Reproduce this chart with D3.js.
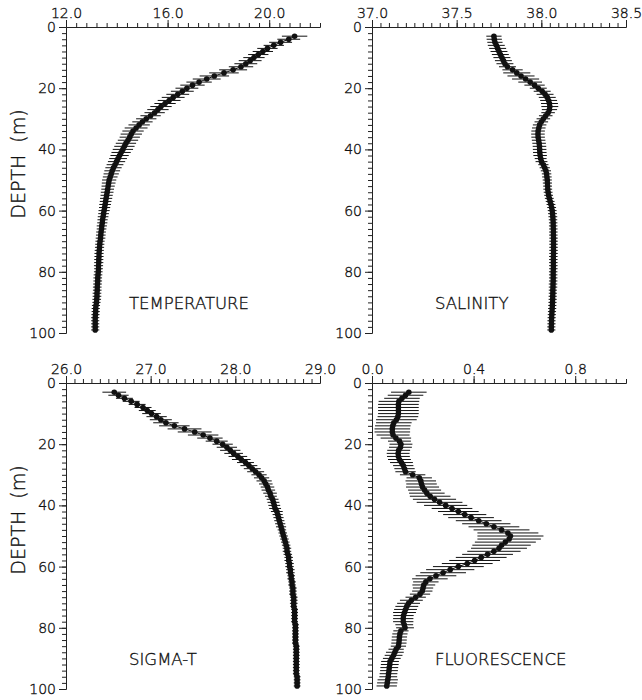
<!DOCTYPE html>
<html>
<head>
<meta charset="utf-8">
<script src="https://cdn.jsdelivr.net/npm/d3@7"></script>
<style>
body { margin: 0; background: #fff; }
text { font-family: "DejaVu Sans", sans-serif; font-weight: 200; fill: #111; stroke: #111; stroke-width: 0.35px; }
</style>
</head>
<body>
<script>
// sample depths (m)
var depth = [3,4,5,6,7,8,9,10,11,12,13,14,15,16,17,18,19,20,21,22,23,24,25,26,27,28,29,30,31,32,33,34,35,36,37,38,39,40,41,42,43,44,45,46,47,48,49,50,
  51,52,53,54,55,56,57,58,59,60,61,62,63,64,65,66,67,68,69,70,71,72,73,74,75,76,77,78,79,80,81,82,83,84,85,86,87,88,89,90,91,92,93,94,95,96,97,98,99];

var temperature = [21.00,20.77,20.45,20.18,19.93,19.75,19.57,19.40,19.25,19.08,
  18.89,18.58,18.22,17.84,17.54,17.24,16.98,16.76,16.58,16.40,
  16.22,16.06,15.90,15.74,15.62,15.49,15.33,15.16,15.01,14.88,
  14.76,14.64,14.57,14.51,14.44,14.36,14.30,14.24,14.17,14.11,
  14.05,13.99,13.93,13.87,13.82,13.78,13.74,13.70,13.68,13.66,
  13.64,13.62,13.60,13.58,13.56,13.54,13.52,13.50,13.48,13.46,
  13.44,13.43,13.41,13.40,13.38,13.37,13.36,13.34,13.33,13.32,
  13.31,13.30,13.30,13.29,13.29,13.28,13.28,13.27,13.26,13.25,
  13.25,13.24,13.23,13.23,13.22,13.22,13.21,13.20,13.18,13.17,
  13.17,13.16,13.15,13.15,13.15,13.15,13.15];
var temperatureErr = [0.50,0.45,0.45,0.40,0.40,0.40,0.40,0.42,0.45,0.45,
  0.48,0.55,0.58,0.58,0.55,0.50,0.48,0.45,0.45,0.45,
  0.45,0.45,0.42,0.42,0.42,0.40,0.40,0.40,0.40,0.42,
  0.45,0.42,0.42,0.40,0.40,0.40,0.40,0.40,0.38,0.36,
  0.35,0.34,0.33,0.32,0.31,0.30,0.29,0.28,0.27,0.26,
  0.25,0.25,0.24,0.24,0.23,0.23,0.22,0.22,0.21,0.21,
  0.20,0.20,0.20,0.19,0.19,0.19,0.19,0.18,0.18,0.18,
  0.18,0.18,0.18,0.18,0.18,0.18,0.17,0.17,0.17,0.17,
  0.17,0.17,0.17,0.17,0.17,0.17,0.17,0.16,0.16,0.16,
  0.16,0.16,0.16,0.16,0.16,0.16,0.16];

var salinity = [37.720,37.722,37.726,37.734,37.742,37.750,37.758,37.767,37.776,37.785,
  37.800,37.830,37.855,37.880,37.907,37.934,37.960,37.982,38.005,38.022,
  38.035,38.043,38.048,38.050,38.048,38.040,38.026,38.012,38.000,37.990,
  37.985,37.981,37.980,37.981,37.984,37.987,37.989,37.990,37.991,37.993,
  37.996,38.001,38.012,38.020,38.027,38.031,38.033,38.035,38.036,38.037,
  38.038,38.040,38.043,38.047,38.052,38.057,38.061,38.064,38.066,38.068,
  38.069,38.070,38.070,38.071,38.071,38.071,38.072,38.072,38.072,38.072,
  38.072,38.072,38.071,38.071,38.071,38.071,38.071,38.070,38.070,38.070,
  38.070,38.069,38.069,38.068,38.068,38.067,38.067,38.066,38.065,38.064,
  38.063,38.062,38.061,38.060,38.060,38.059,38.059];
var salinityErr = [0.045,0.045,0.045,0.05,0.05,0.05,0.05,0.05,0.05,0.05,
  0.05,0.06,0.08,0.08,0.08,0.07,0.06,0.05,0.05,0.05,
  0.05,0.05,0.05,0.05,0.045,0.04,0.04,0.04,0.04,0.04,
  0.04,0.04,0.04,0.04,0.04,0.04,0.04,0.04,0.04,0.04,
  0.035,0.035,0.03,0.03,0.03,0.028,0.028,0.027,0.027,0.026,
  0.026,0.026,0.026,0.026,0.026,0.026,0.026,0.026,0.026,0.026,
  0.025,0.025,0.025,0.025,0.025,0.025,0.025,0.025,0.025,0.025,
  0.025,0.025,0.025,0.025,0.025,0.025,0.025,0.025,0.025,0.025,
  0.025,0.025,0.025,0.024,0.024,0.024,0.024,0.024,0.024,0.024,
  0.024,0.024,0.024,0.024,0.024,0.024,0.024];

var sigmaT = [26.57,26.62,26.69,26.77,26.84,26.91,26.96,27.01,27.07,27.12,
  27.18,27.28,27.40,27.52,27.62,27.70,27.78,27.85,27.90,27.94,
  27.98,28.03,28.07,28.12,28.16,28.20,28.24,28.28,28.31,28.34,
  28.36,28.38,28.39,28.41,28.42,28.44,28.45,28.46,28.47,28.49,
  28.50,28.51,28.52,28.53,28.54,28.55,28.56,28.57,28.58,28.59,
  28.60,28.61,28.61,28.62,28.63,28.63,28.64,28.64,28.65,28.65,
  28.66,28.66,28.67,28.67,28.68,28.68,28.68,28.69,28.69,28.69,
  28.69,28.70,28.70,28.70,28.70,28.70,28.71,28.71,28.71,28.71,
  28.71,28.71,28.71,28.72,28.72,28.72,28.72,28.72,28.72,28.72,
  28.72,28.72,28.72,28.73,28.73,28.73,28.73];
var sigmaTErr = [0.14,0.12,0.10,0.10,0.10,0.10,0.10,0.11,0.12,0.13,
  0.15,0.18,0.20,0.20,0.18,0.15,0.13,0.12,0.12,0.12,
  0.11,0.11,0.11,0.10,0.10,0.10,0.10,0.09,0.09,0.09,
  0.08,0.08,0.08,0.08,0.07,0.07,0.07,0.07,0.07,0.07,
  0.06,0.06,0.06,0.06,0.06,0.05,0.05,0.05,0.05,0.05,
  0.05,0.05,0.05,0.05,0.05,0.05,0.05,0.05,0.05,0.05,
  0.045,0.045,0.045,0.045,0.045,0.045,0.045,0.045,0.045,0.045,
  0.04,0.04,0.04,0.04,0.04,0.04,0.04,0.04,0.04,0.04,
  0.04,0.04,0.04,0.04,0.04,0.04,0.04,0.04,0.04,0.04,
  0.04,0.04,0.04,0.04,0.04,0.04,0.04];

var fluorescence = [0.145,0.132,0.118,0.106,0.104,0.104,0.104,0.104,0.102,0.096,
  0.086,0.082,0.080,0.080,0.083,0.094,0.108,0.114,0.112,0.105,
  0.103,0.104,0.108,0.116,0.123,0.128,0.132,0.160,0.186,0.192,
  0.195,0.199,0.207,0.216,0.229,0.246,0.266,0.290,0.315,0.340,
  0.365,0.390,0.420,0.450,0.480,0.510,0.535,0.545,0.540,0.525,
  0.510,0.500,0.480,0.455,0.430,0.404,0.375,0.340,0.308,0.280,
  0.252,0.228,0.212,0.204,0.201,0.198,0.189,0.172,0.155,0.144,
  0.137,0.132,0.128,0.124,0.123,0.123,0.127,0.130,0.114,0.110,
  0.108,0.107,0.106,0.104,0.095,0.090,0.085,0.078,0.071,0.070,
  0.068,0.067,0.065,0.064,0.062,0.060,0.058];
var fluorescenceErr = [0.07,0.07,0.07,0.08,0.08,0.08,0.08,0.08,0.08,0.08,
  0.07,0.07,0.07,0.07,0.065,0.06,0.045,0.045,0.045,0.045,
  0.045,0.045,0.045,0.045,0.04,0.04,0.04,0.05,0.05,0.06,
  0.06,0.065,0.065,0.07,0.08,0.085,0.09,0.085,0.08,0.08,
  0.085,0.09,0.09,0.095,0.10,0.11,0.12,0.13,0.125,0.12,
  0.115,0.11,0.105,0.10,0.10,0.10,0.10,0.10,0.095,0.09,
  0.08,0.07,0.05,0.045,0.04,0.04,0.04,0.04,0.045,0.045,
  0.045,0.045,0.045,0.04,0.04,0.04,0.035,0.035,0.03,0.03,
  0.03,0.03,0.03,0.03,0.03,0.035,0.035,0.035,0.035,0.035,
  0.035,0.035,0.035,0.035,0.04,0.04,0.04];

// tick labels
var temperatureTicks = [12, 16, 20];
var salinityTicks = [37, 37.5, 38, 38.5];
var sigmaTTicks = [26, 27, 28, 29];
var fluorescenceTicks = [0, 0.4, 0.8];
var depthTicks = [0, 20, 40, 60, 80, 100];

var width = 642, height = 700;
var pw = 254, ph = 306;

var svg = d3.select("body").append("svg")
    .attr("width", width)
    .attr("height", height);

var panels = [
    { name: "TEMPERATURE", values: temperature, err: temperatureErr, domain: [12, 22], ticks: temperatureTicks, minor: 0.4, left: 66, top: 27, ylabel: true },
    { name: "SALINITY", values: salinity, err: salinityErr, domain: [37, 38.5], ticks: salinityTicks, minor: 0.05, left: 372, top: 27, ylabel: false },
    { name: "SIGMA-T", values: sigmaT, err: sigmaTErr, domain: [26, 29], ticks: sigmaTTicks, minor: 0.1, left: 66, top: 383, ylabel: true },
    { name: "FLUORESCENCE", values: fluorescence, err: fluorescenceErr, domain: [0, 1], ticks: fluorescenceTicks, minor: 0.04, left: 372, top: 383, ylabel: false }
];

var y = d3.scaleLinear().domain([0, 100]).range([0, ph]);
var minorY = d3.range(0, 101, 2);

function styleAxis(g) {
    g.attr("font-family", null).attr("font-size", null);
    g.selectAll("text").style("font-size", "14px");
    g.selectAll("path, line").attr("stroke", "#222");
}

panels.forEach(function (p) {
    var g = svg.append("g").attr("transform", "translate(" + p.left + "," + p.top + ")");
    var x = d3.scaleLinear().domain(p.domain).range([0, pw]);
    var n = Math.round((p.domain[1] - p.domain[0]) / p.minor);
    var minorX = d3.range(n + 1).map(function (i) { return p.domain[0] + i * p.minor; });

    // top axis
    g.append("g").call(d3.axisTop(x).tickValues(minorX).tickSize(4).tickSizeOuter(0).tickFormat("")).call(styleAxis);
    g.append("g").call(d3.axisTop(x).tickValues(p.ticks).tickSize(7).tickSizeOuter(0).tickPadding(2)
        .tickFormat(d3.format(".1f"))).call(styleAxis);

    // left axis
    g.append("g").call(d3.axisLeft(y).tickValues(minorY).tickSize(4).tickSizeOuter(0).tickFormat("")).call(styleAxis);
    g.append("g").call(d3.axisLeft(y).tickValues(depthTicks).tickSize(7).tickSizeOuter(0).tickPadding(3)).call(styleAxis);

    var rows = depth.map(function (d, i) { return { d: d, v: p.values[i], e: p.err[i] }; });

    // error bars
    g.selectAll(".err")
        .data(rows)
        .enter()
        .append("line")
        .attr("class", "err")
        .attr("x1", function (r) { return x(r.v - r.e); })
        .attr("x2", function (r) { return x(r.v + r.e); })
        .attr("y1", function (r) { return y(r.d); })
        .attr("y2", function (r) { return y(r.d); })
        .attr("stroke", "#111")
        .attr("stroke-width", 1);

    var line = d3.line()
        .x(function (r) { return x(r.v); })
        .y(function (r) { return y(r.d); });

    g.append("path")
        .datum(rows)
        .attr("d", line)
        .attr("fill", "none")
        .attr("stroke", "#111")
        .attr("stroke-width", 1);

    g.selectAll(".dot")
        .data(rows)
        .enter()
        .append("circle")
        .attr("class", "dot")
        .attr("cx", function (r) { return x(r.v); })
        .attr("cy", function (r) { return y(r.d); })
        .attr("r", 2.8)
        .attr("fill", "#111");

    g.append("text")
        .attr("x", 63)
        .attr("y", 282)
        .style("font-size", "16.5px")
        .text(p.name);

    if (p.ylabel) {
        g.append("text")
            .attr("transform", "translate(" + (18 - p.left) + "," + 137 + ") rotate(-90)")
            .attr("text-anchor", "middle")
            .attr("dy", "0.36em")
            .style("font-size", "19px")
            .style("white-space", "pre")
            .text("DEPTH  (m)");
    }
});
</script>
</body>
</html>
